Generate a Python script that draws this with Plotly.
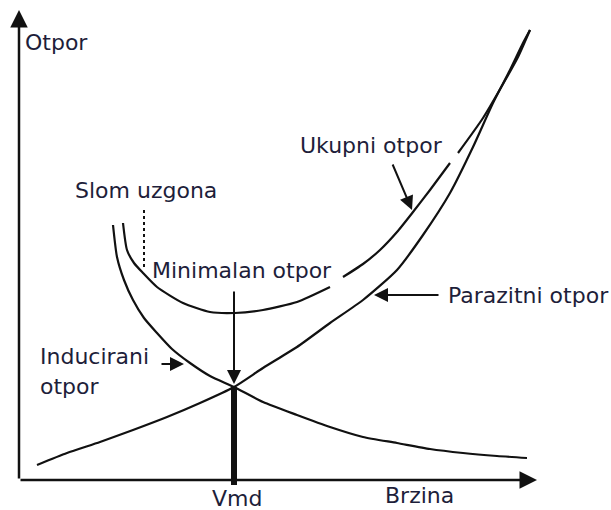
import plotly.graph_objects as go

# ---------------- data (speed, drag in arbitrary units) ----------------
parasite_speed = [0.36, 0.96, 1.62, 2.28, 2.96, 3.62, 4.30, 4.88, 5.56, 6.22, 6.88, 7.56, 8.08, 8.62, 9.08, 9.48, 9.82, 10.08, 10.22]
parasite_drag = [0.30, 0.54, 0.76, 1.00, 1.26, 1.54, 1.86, 2.24, 2.66, 3.14, 3.60, 4.20, 4.90, 5.74, 6.66, 7.54, 8.20, 8.74, 9.00]

induced_speed = [1.88, 1.96, 2.10, 2.28, 2.50, 2.76, 3.06, 3.42, 3.82, 4.30, 4.88, 5.56, 6.22, 6.88, 7.56, 8.22, 8.88, 9.56, 10.16]
induced_drag = [5.10, 4.46, 4.00, 3.60, 3.24, 2.94, 2.62, 2.34, 2.08, 1.86, 1.56, 1.30, 1.06, 0.86, 0.74, 0.62, 0.54, 0.48, 0.44]

# total drag curve (None = gaps in the drawn line)
total_speed = [2.08, 2.16, 2.30, 2.48, 2.76, 3.28, 3.82, 4.32, 4.88, 5.56, 6.22, None, 6.48, 6.88, 7.22, 7.56, 7.88, 8.22, 8.62, None, 8.78, 9.28, 9.76, 9.98, 10.22]
total_drag = [5.14, 4.60, 4.34, 4.14, 3.86, 3.54, 3.36, 3.34, 3.40, 3.56, 3.86, None, 4.06, 4.32, 4.60, 4.96, 5.36, 5.80, 6.34, None, 6.54, 7.24, 8.06, 8.46, 9.00]

vmd_speed = 4.30          # speed of minimum drag
vmd_drag = 1.86           # induced = parasite at Vmd
stall_speed = 2.50        # "Slom uzgona" marker
stall_top, stall_bottom = 5.40, 4.26
axis_x_max = 10.36
axis_y_max = 9.40

label_y_axis = "Otpor"
label_x_axis = "Brzina"
label_vmd = "Vmd"
label_stall = "Slom uzgona"
label_min = "Minimalan otpor"
label_total = "Ukupni otpor"
label_parasite = "Parazitni otpor"
label_induced_1 = "Inducirani"
label_induced_2 = "otpor"

# ---------------- figure ----------------
INK = "#111111"
TXT = "#1e1e3a"
FONT = "DejaVu Sans"
FSIZE = 22

fig = go.Figure()
line_style = dict(color=INK, width=2.2, shape="spline", smoothing=0.6)
fig.add_trace(go.Scatter(x=parasite_speed, y=parasite_drag, mode="lines", line=line_style, hoverinfo="skip"))
fig.add_trace(go.Scatter(x=induced_speed, y=induced_drag, mode="lines", line=line_style, hoverinfo="skip"))
fig.add_trace(go.Scatter(x=total_speed, y=total_drag, mode="lines", line=line_style, connectgaps=False, hoverinfo="skip"))

# Vmd thick bar
fig.add_shape(type="line", x0=vmd_speed, x1=vmd_speed, y0=vmd_drag, y1=-0.10,
              line=dict(color=INK, width=6), layer="above")
# stall dashed line
fig.add_shape(type="line", x0=stall_speed, x1=stall_speed, y0=stall_top, y1=stall_bottom,
              line=dict(color=INK, width=2, dash="dot"))

annotations = []
def arrow(x, y, ax, ay, width=2, size=1.0):
    annotations.append(dict(x=x, y=y, ax=ax, ay=ay, xref="x", yref="y", axref="x", ayref="y",
                            text="", showarrow=True, arrowhead=2, arrowsize=size,
                            arrowwidth=width, arrowcolor=INK, standoff=0, startstandoff=0))

# axes
arrow(0, axis_y_max, 0, 0, width=2.5, size=1.4)
arrow(axis_x_max, 0, 0, 0, width=2.5, size=1.4)
# pointer arrows
arrow(vmd_speed, vmd_drag + 0.06, vmd_speed, 3.80, size=1.4)
arrow(3.30, 2.32, 2.82, 2.32, size=1.4)
arrow(7.10, 3.70, 8.42, 3.70, size=1.4)
arrow(7.86, 5.40, 7.46, 6.34, size=1.4)

def label(text, x, y, xanchor="left"):
    annotations.append(dict(x=x, y=y, xref="x", yref="y", text=text, showarrow=False,
                            xanchor=xanchor, yanchor="middle", borderpad=0,
                            font=dict(family=FONT, size=FSIZE, color=TXT)))

label(label_y_axis, 0.10, 8.76)
label(label_stall, 1.10, 5.80)
label(label_min, 2.64, 4.20)
label(label_total, 5.60, 6.70)
label(label_parasite, 8.56, 3.70)
label(label_induced_1, 0.40, 2.48)
label(label_induced_2, 0.40, 1.88)
label(label_x_axis, 7.30, -0.30)
label(label_vmd, vmd_speed + 0.05, -0.36, xanchor="center")

fig.update_layout(
    width=611, height=510, autosize=False,
    margin=dict(l=0, r=0, t=0, b=0),
    paper_bgcolor="white", plot_bgcolor="white",
    showlegend=False,
    xaxis=dict(range=[-0.38, 11.84], visible=False, fixedrange=True),
    yaxis=dict(range=[-0.60, 9.60], visible=False, fixedrange=True),
    annotations=annotations,
)

fig.write_html("out.html", config={"displayModeBar": False},
               post_script="document.body.style.margin='0';document.body.style.overflow='hidden';")
